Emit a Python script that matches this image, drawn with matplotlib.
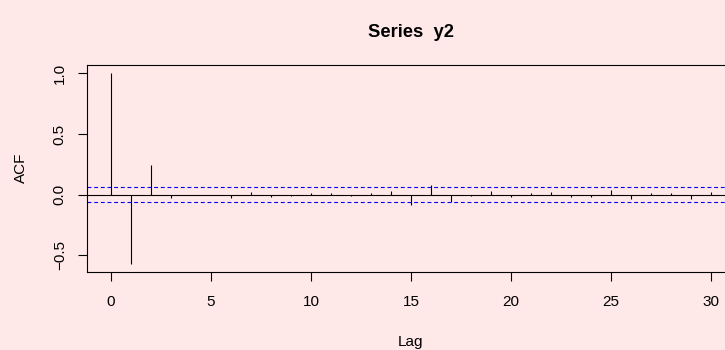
import numpy as np
import matplotlib
matplotlib.use("Agg")
import matplotlib.pyplot as plt

plt.rcParams['font.family'] = ['Liberation Sans', 'DejaVu Sans']

# autocorrelations of y2, lags 0..30
lags = np.arange(0, 31)
acf_vals = [1.0, -0.572, 0.247, -0.025, -0.005, -0.006, -0.030, 0.022, -0.019,
            -0.012, 0.013, 0.016, -0.008, 0.013, 0.033, -0.085, 0.082, -0.060,
            -0.010, 0.033, -0.019, 0.016, 0.022, -0.019, -0.016, 0.038, -0.035,
            0.013, 0.016, -0.033, 0.025]
ci = 0.062  # 1.96/sqrt(n)

xticks = [0, 5, 10, 15, 20, 25, 30]
yticks = [-0.5, 0.0, 0.5, 1.0]
bg = '#FFE8E8'

fig = plt.figure(figsize=(7.25, 3.5), dpi=100, facecolor=bg)
ax = fig.add_axes([87/725, 78/350, 648/725, 207/350], facecolor=bg)

ax.vlines(lags, 0, acf_vals, color='black', lw=0.8)
ax.axhline(0, color='black', lw=0.8)
ax.axhline(ci, color='blue', lw=0.8, ls=(0, (3.5, 2.5)))
ax.axhline(-ci, color='blue', lw=0.8, ls=(0, (3.5, 2.5)))

ax.set_xlim(-1.2, 31.2)
ax.set_ylim(-0.636, 1.068)
ax.set_xticks(xticks)
ax.set_xticklabels([str(t) for t in xticks])
ax.set_yticks(yticks)
ax.set_yticklabels(['\u22120.5', '0.0', '0.5', '1.0'], rotation=90, va='center')

for s in ax.spines.values():
    s.set_color('black')
    s.set_linewidth(0.8)
ax.tick_params(axis='both', length=6.5, width=0.8, labelsize=11)
ax.tick_params(axis='x', pad=10)
ax.tick_params(axis='y', pad=8)

fig.text(411/725, 1 - 37/350, 'Series  y2', ha='center', va='baseline',
         fontsize=13.2, fontweight='bold')
fig.text(411/725, 1 - 346/350, 'Lag', ha='center', va='baseline', fontsize=11)
fig.text(21/725, 1 - 168/350, 'ACF', ha='center', va='center', rotation=90,
         fontsize=11)

fig.savefig('out.png', dpi=100, facecolor=bg)
